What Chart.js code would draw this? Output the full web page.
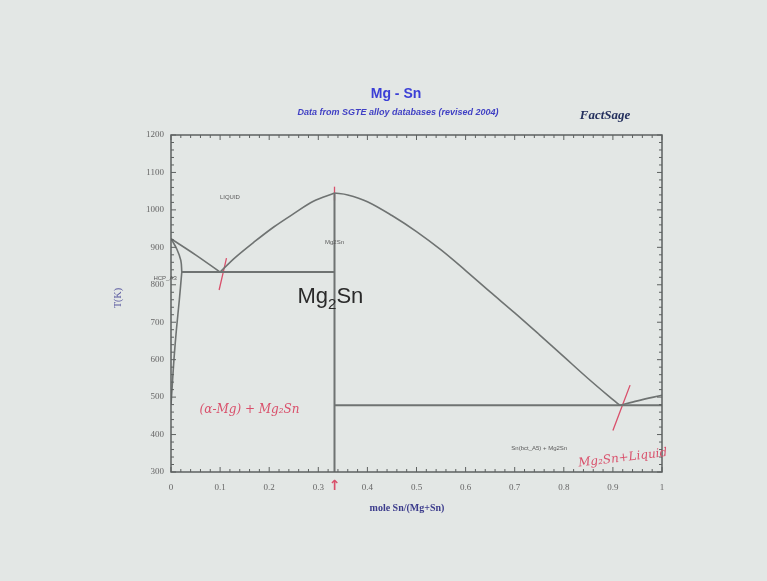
<!DOCTYPE html>
<html>
<head>
<meta charset="utf-8">
<script src="https://cdn.jsdelivr.net/npm/chart.js@4/dist/chart.umd.min.js"></script>
<style>
  html, body { margin: 0; padding: 0; background: #e3e7e5; }
  #wrap { width: 767px; height: 581px; }
</style>
</head>
<body>
<div id="wrap"><canvas id="phaseChart" width="767" height="581"></canvas></div>
<script>
// --- Datos del diagrama Mg-Sn (x = fracción molar Sn, y = T en K) ---
const xTicks = [0, 0.1, 0.2, 0.3, 0.4, 0.5, 0.6, 0.7, 0.8, 0.9, 1];
const yTicks = [300, 400, 500, 600, 700, 800, 900, 1000, 1100, 1200];

const liqMgX = [0, 0.05, 0.1];
const liqMgT = [923, 880, 834];

const liqLeftX = [0.1, 0.13, 0.17, 0.21, 0.25, 0.29, 0.333];
const liqLeftT = [834, 872, 915, 955, 990, 1023, 1045];

const liqRightX = [0.333, 0.36, 0.4, 0.45, 0.5, 0.55, 0.6, 0.65, 0.7, 0.75, 0.8, 0.85, 0.9, 0.914];
const liqRightT = [1045, 1040, 1022, 985, 942, 893, 838, 781, 725, 667, 608, 549, 493, 478];

const liqSnX = [0.914, 0.95, 1];
const liqSnT = [478, 490, 505];

const solidusX = [0, 0.012, 0.02, 0.022];
const solidusT = [923, 895, 865, 834];

const solvusX = [0.022, 0.017, 0.011, 0.006, 0.002, 0];
const solvusT = [834, 760, 680, 600, 520, 480];

const eutMgX = [0.022, 0.333];
const eutMgT = [834, 834];

const eutSnX = [0.333, 1];
const eutSnT = [478, 478];

const compX = [0.333, 0.333];
const compT = [1045, 300];

// marcas a mano (rojo)
const mark1X = [0.113, 0.098];
const mark1T = [871, 786];
const mark2X = [0.333, 0.333];
const mark2T = [1062, 1025];
const mark3X = [0.935, 0.9];
const mark3T = [532, 411];

const pts = (xs, ys) => xs.map((x, i) => ({ x: x, y: ys[i] }));

const lineColor = "#6f7372";
const redInk = "#d9506b";

function line(xs, ys, color, width) {
  return {
    data: pts(xs, ys),
    borderColor: color || lineColor,
    borderWidth: width || 1.6,
    showLine: true,
    pointRadius: 0,
    tension: 0.35,
    fill: false
  };
}

// --- Textos y marco ---
const decor = {
  id: "decor",
  beforeDraw(chart) {
    const c = chart.ctx;
    c.save();
    c.fillStyle = "#e3e7e5";
    c.fillRect(0, 0, chart.width, chart.height);
    c.restore();
  },
  afterDraw(chart) {
    const c = chart.ctx;
    const a = chart.chartArea;
    const xs = chart.scales.x, ys = chart.scales.y;
    const px = v => xs.getPixelForValue(v);
    const py = v => ys.getPixelForValue(v);
    c.save();

    // marco
    c.strokeStyle = "#5d6160";
    c.lineWidth = 1.5;
    c.strokeRect(a.left, a.top, a.right - a.left, a.bottom - a.top);

    // ticks hacia dentro
    c.lineWidth = 1;
    for (let i = 0; i <= 50; i++) {
      const v = i * 0.02;
      const len = (i % 5 === 0) ? 5 : 3;
      const x = px(v);
      c.beginPath();
      c.moveTo(x, a.bottom); c.lineTo(x, a.bottom - len);
      c.moveTo(x, a.top); c.lineTo(x, a.top + len);
      c.stroke();
    }
    for (let t = 300; t <= 1200; t += 20) {
      const len = (t % 100 === 0) ? 5 : 3;
      const y = py(t);
      c.beginPath();
      c.moveTo(a.left, y); c.lineTo(a.left + len, y);
      c.moveTo(a.right, y); c.lineTo(a.right - len, y);
      c.stroke();
    }

    // títulos
    c.textAlign = "center";
    c.textBaseline = "middle";
    c.fillStyle = "#3b3fd6";
    c.font = "bold 14px 'Liberation Sans', Arial, sans-serif";
    c.fillText("Mg - Sn", 396, 94);
    c.fillStyle = "#3f3fc4";
    c.font = "italic bold 9px 'Liberation Sans', Arial, sans-serif";
    c.fillText("Data from SGTE alloy databases (revised 2004)", 398, 113);

    c.fillStyle = "#24305e";
    c.font = "italic bold 13px 'Liberation Serif', serif";
    c.fillText("FactSage", 605, 116);

    c.fillStyle = "#3c3c8c";
    c.font = "bold 10px 'Liberation Serif', serif";
    c.fillText("mole Sn/(Mg+Sn)", 407, 508);

    c.save();
    c.translate(118, 298);
    c.rotate(-Math.PI / 2);
    c.fillStyle = "#5a5aa0";
    c.font = "10px 'Liberation Serif', serif";
    c.fillText("T(K)", 0, 0);
    c.restore();

    // etiquetas de fases
    c.fillStyle = "#5a5a5a";
    c.font = "6px 'Liberation Sans', Arial, sans-serif";
    c.fillText("LIQUID", px(0.12), py(1034));
    c.fillText("Mg2Sn", px(0.333), py(914));
    c.fillText("HCP_A3", px(-0.012), py(816));
    c.fillText("Sn(bct_A5) + Mg2Sn", px(0.75), py(363));

    // Mg2Sn grande
    c.fillStyle = "#2a2a2a";
    c.textAlign = "left";
    c.font = "22px 'Liberation Sans', Arial, sans-serif";
    let x0 = px(0.333) - 37, y0 = py(767);
    c.fillText("Mg", x0, y0);
    let w = c.measureText("Mg").width;
    c.font = "15px 'Liberation Sans', Arial, sans-serif";
    c.fillText("2", x0 + w, y0 + 8);
    let w2 = c.measureText("2").width;
    c.font = "22px 'Liberation Sans', Arial, sans-serif";
    c.fillText("Sn", x0 + w + w2, y0);

    // anotaciones a mano
    c.fillStyle = redInk;
    c.textAlign = "center";
    c.font = "italic 12px 'DejaVu Serif', serif";
    c.fillText("(\u03b1-Mg) + Mg\u2082Sn", px(0.16), py(465));
    c.save();
    c.translate(px(0.92), py(337));
    c.rotate(-0.12);
    c.font = "italic 12px 'DejaVu Serif', serif";
    c.fillText("Mg\u2082Sn+Liquid", 0, 0);
    c.restore();
    c.font = "bold 14px 'DejaVu Sans', sans-serif";
    c.fillText("\u2191", px(0.333), a.bottom + 14);

    c.restore();
  }
};

const ctx = document.getElementById("phaseChart").getContext("2d");
new Chart(ctx, {
  type: "scatter",
  plugins: [decor],
  data: {
    datasets: [
      line(liqMgX, liqMgT),
      line(liqLeftX, liqLeftT),
      line(liqRightX, liqRightT),
      line(liqSnX, liqSnT),
      line(solidusX, solidusT),
      line(solvusX, solvusT),
      line(eutMgX, eutMgT, lineColor, 2),
      line(eutSnX, eutSnT, lineColor, 2),
      line(compX, compT, lineColor, 2),
      line(mark1X, mark1T, redInk, 1.3),
      line(mark2X, mark2T, redInk, 1.3),
      line(mark3X, mark3T, redInk, 1.3)
    ]
  },
  options: {
    responsive: false,
    animation: false,
    layout: { padding: { left: 111, right: 105, top: 135, bottom: 79 } },
    plugins: {
      legend: { display: false },
      tooltip: { enabled: false }
    },
    scales: {
      x: {
        type: "linear",
        min: 0,
        max: 1,
        afterFit: s => { s.height = 30; },
        afterBuildTicks: s => { s.ticks = xTicks.map(v => ({ value: v })); },
        grid: { display: false, drawTicks: false },
        border: { display: false },
        ticks: {
          padding: 10,
          color: "#666",
          font: { family: "'Liberation Serif', serif", size: 9 },
          callback: v => String(Math.round(v * 10) / 10)
        }
      },
      y: {
        type: "linear",
        min: 300,
        max: 1200,
        afterFit: s => { s.width = 60; },
        afterBuildTicks: s => { s.ticks = yTicks.map(v => ({ value: v })); },
        grid: { display: false, drawTicks: false },
        border: { display: false },
        ticks: {
          padding: 7,
          color: "#666",
          font: { family: "'Liberation Serif', serif", size: 9 },
          callback: v => String(v)
        }
      }
    }
  }
});
</script>
</body>
</html>
